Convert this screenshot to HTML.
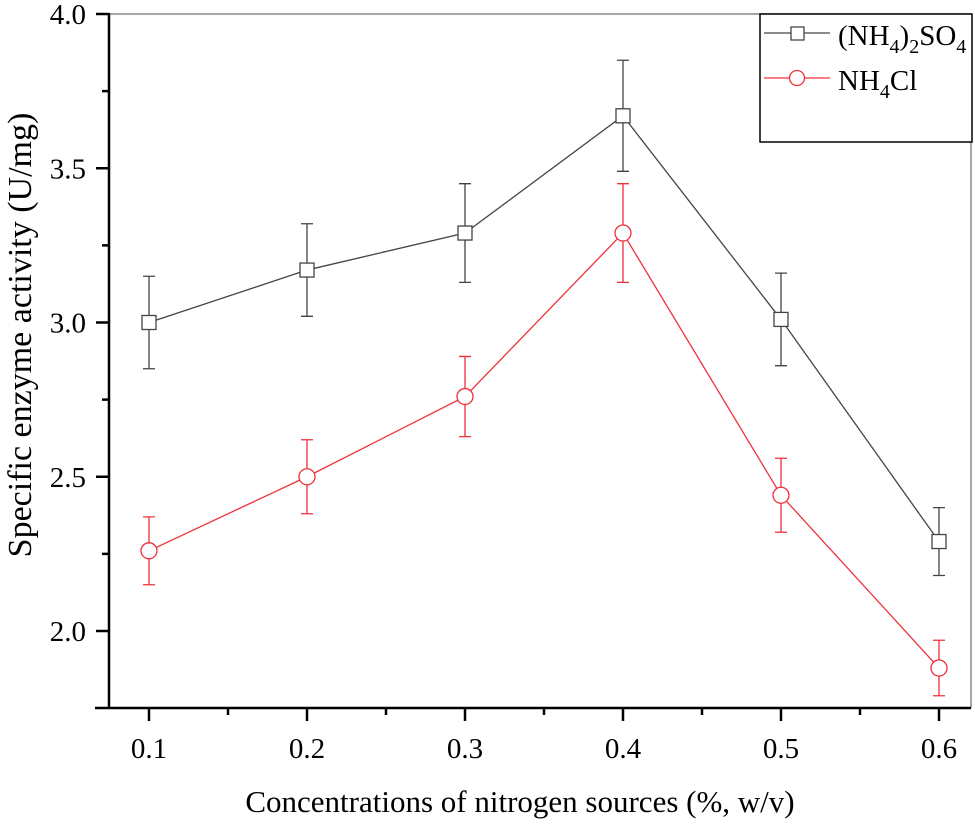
<!DOCTYPE html>
<html><head><meta charset="utf-8"><style>
body{margin:0;background:#fff}
svg text{font-family:"Liberation Serif",serif;fill:#000}
</style></head><body>
<svg id="chart" width="975" height="822" xmlns="http://www.w3.org/2000/svg">
<g id="axes"></g>
<g id="series"></g>
<g id="legend">
<rect x="760" y="14" width="212" height="128" fill="#fff" stroke="#000" stroke-width="1.5"/>
<g>
<line x1="764" y1="33" x2="830" y2="33" stroke="#444" stroke-width="1.3"/>
<rect x="791" y="27" width="13" height="13" fill="#fff" stroke="#444" stroke-width="1.3"/>
<text x="838" y="45" font-size="29">(NH<tspan font-size="20" dy="8">4</tspan><tspan dy="-8">)</tspan><tspan font-size="20" dy="8">2</tspan><tspan dy="-8">SO</tspan><tspan font-size="20" dy="8">4</tspan></text>
</g>
<g>
<line x1="764" y1="78" x2="830" y2="78" stroke="#f0303a" stroke-width="1.3"/>
<circle cx="797" cy="78" r="7.5" fill="#fff" stroke="#f0303a" stroke-width="1.3"/>
<text x="838" y="90" font-size="29">NH<tspan font-size="20" dy="8">4</tspan><tspan dy="-8">Cl</tspan></text>
</g>
</g>
</svg>
<script>
const categories=[0.1,0.2,0.3,0.4,0.5,0.6];
const so4Values=[3.00,3.17,3.29,3.67,3.01,2.29];
const so4Errors=[0.15,0.15,0.16,0.18,0.15,0.11];
const clValues=[2.26,2.50,2.76,3.29,2.44,1.88];
const clErrors=[0.11,0.12,0.13,0.16,0.12,0.09];
const yTicks=["2.0","2.5","3.0","3.5","4.0"];
const xTicks=["0.1","0.2","0.3","0.4","0.5","0.6"];

const NS="http://www.w3.org/2000/svg";
const L=109,R=971,T=14,B=708;
function xs(v){return 149+(v-0.1)*1580;}
function ys(v){return 631-(v-2.0)*308.5;}
function mk(tag,attrs,parent){const e=document.createElementNS(NS,tag);for(const k in attrs)e.setAttribute(k,attrs[k]);parent.appendChild(e);return e;}
const axes=document.getElementById('axes');
let e;
e=mk('line',{x1:L,y1:T,x2:R,y2:T,stroke:'#888','stroke-width':1.5},axes);


e=mk('line',{x1:R,y1:T,x2:R,y2:B,stroke:'#888','stroke-width':1.5},axes);


e=mk('line',{x1:L,y1:T-1,x2:L,y2:B+1,stroke:'#000','stroke-width':2.5},axes);


e=mk('line',{x1:L-14,y1:B,x2:R,y2:B,stroke:'#000','stroke-width':2.5},axes);


yTicks.forEach((t,i)=>{const v=parseFloat(t);const y=ys(v);
 mk('line',{x1:L-13,y1:y,x2:L,y2:y,stroke:'#000','stroke-width':2.5},axes);
 if(i<yTicks.length-1)mk('line',{x1:L-7,y1:ys(v+0.25),x2:L,y2:ys(v+0.25),stroke:'#000','stroke-width':2.5},axes);
 const tx=mk('text',{x:L-23,y:y+10,'font-size':29,'text-anchor':'end'},axes);tx.textContent=t;
 
 
});
xTicks.forEach((t,i)=>{const v=parseFloat(t);const x=xs(v);
 mk('line',{x1:x,y1:B,x2:x,y2:B+13,stroke:'#000','stroke-width':2.5},axes);
 if(i<xTicks.length-1)mk('line',{x1:xs(v+0.05),y1:B,x2:xs(v+0.05),y2:B+7,stroke:'#000','stroke-width':2.5},axes);
 const tx=mk('text',{x:x,y:B+50,'font-size':29,'text-anchor':'middle'},axes);tx.textContent=t;
 
 
});
e=mk('text',{x:520,y:812,'font-size':31,'text-anchor':'middle'},axes);e.textContent='Concentrations of nitrogen sources (%, w/v)';


e=mk('text',{x:0,y:0,'font-size':34,'text-anchor':'middle',transform:'translate(31,335) rotate(-90)'},axes);e.textContent='Specific enzyme activity (U/mg)';



const ser=document.getElementById('series');
function draw(vals,errs,color,shape,name){
 const g=mk('g',{},ser);
 
 
 mk('polyline',{points:categories.map((c,i)=>xs(c)+','+ys(vals[i])).join(' '),fill:'none',stroke:color,'stroke-width':1.3},g);
 categories.forEach((c,i)=>{const x=xs(c),y1=ys(vals[i]+errs[i]),y2=ys(vals[i]-errs[i]);
  const eb=mk('path',{d:`M${x},${y1}V${y2}M${x-6},${y1}H${x+6}M${x-6},${y2}H${x+6}`,stroke:color,'stroke-width':1.3,fill:'none'},g);
  
  
 });
 categories.forEach((c,i)=>{const x=xs(c),y=ys(vals[i]);let m;
  if(shape==='sq')m=mk('rect',{x:x-7,y:y-7,width:14,height:14,fill:'#fff',stroke:color,'stroke-width':1.3},g);
  else m=mk('circle',{cx:x,cy:y,r:8,fill:'#fff',stroke:color,'stroke-width':1.3},g);
  
  
 });
}
draw(so4Values,so4Errors,'#444','sq','nh4-2so4');
draw(clValues,clErrors,'#f0303a','ci','nh4cl');
ser.parentNode.appendChild(document.getElementById('legend'));
</script>
</body></html>
